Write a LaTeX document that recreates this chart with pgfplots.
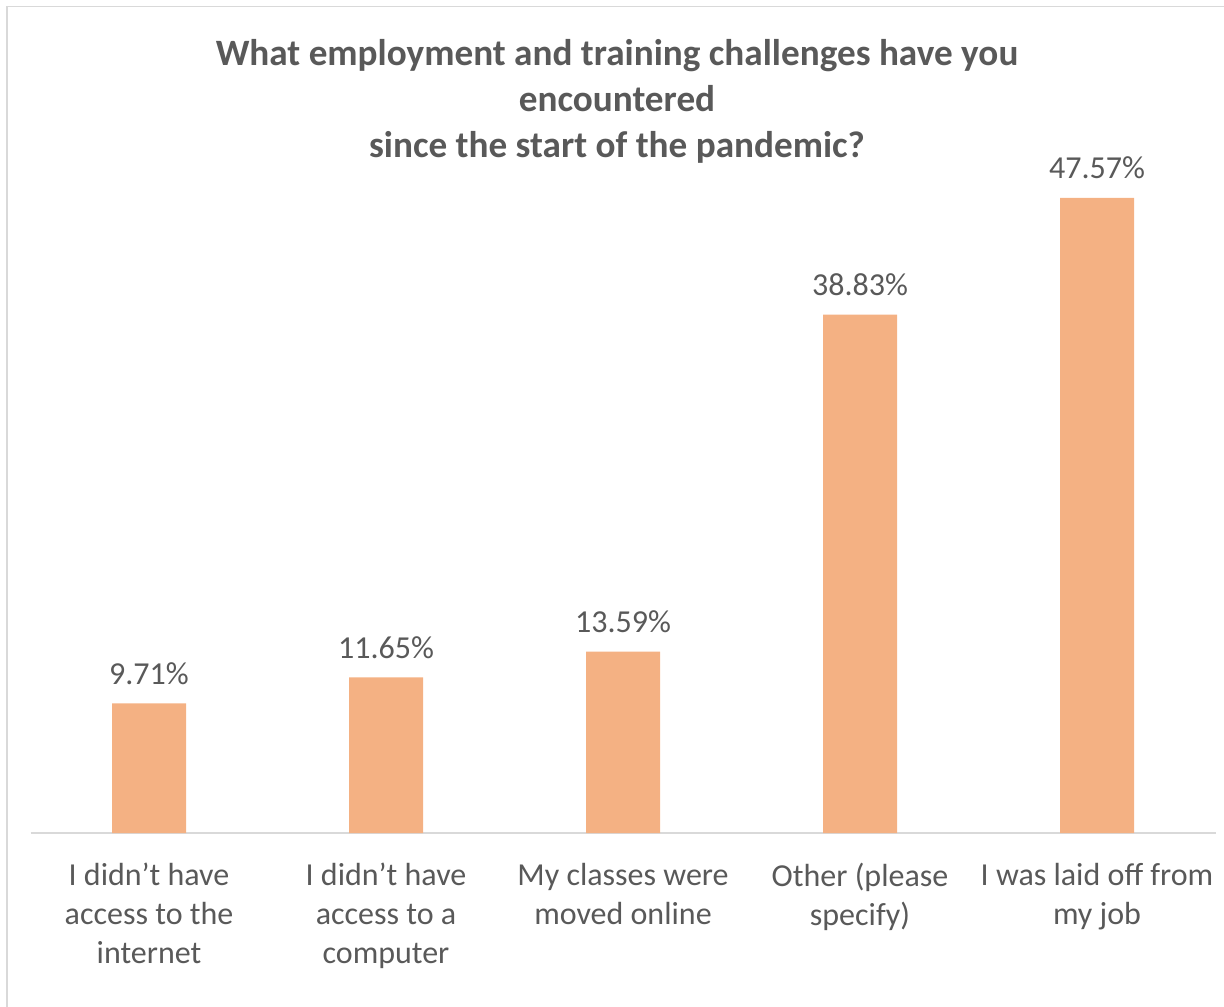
\documentclass[border=0pt]{standalone}
\usepackage{pgfplots}
\pgfplotsset{compat=1.18}
\usepackage{fontspec}
\setmainfont{Carlito}
\definecolor{barc}{HTML}{F4B183}
\definecolor{txt}{HTML}{595959}
\definecolor{gridc}{HTML}{D9D9D9}
\begin{document}
\begin{tikzpicture}[x=1pt,y=1pt]
\useasboundingbox (0,0) rectangle (612,503);
\begin{scope}
\clip (0,0) rectangle (612,503);
\draw[gridc, line width=0.8pt] (3.5,-10) -- (3.5,499.75) -- (640,499.75);
\end{scope}
\node[text=txt, font=\fontsize{18.6}{23}\selectfont\bfseries, align=center, anchor=north] at (308.5,487)
{What employment and training challenges have you\\ encountered\\ since the start of the pandemic?};
\begin{axis}[
  at={(15.25pt,86.5pt)}, anchor=south west,
  scale only axis, width=592.5pt, height=333.75pt,
  xmin=-0.5, xmax=4.5, ymin=0, ymax=50,
  axis lines=none,
  ybar, bar width=37pt,
  xtick=data,
  xticklabels={},
  /pgf/number format/assume math mode=true,
  nodes near coords={\pgfmathprintnumber[fixed,fixed zerofill,precision=2,assume math mode=true]{\pgfplotspointmeta}\%},
  nodes near coords style={text=txt, font=\fontsize{16}{19}\selectfont, anchor=south, yshift=6pt},
  point meta=explicit,
  clip=false,
]
\draw[gridc, line width=1pt] (axis cs:-0.5,0) -- (axis cs:4.5,0);
\addplot[fill=barc, draw=none] coordinates {
  (0,9.71) [9.71] (1,11.65) [11.65] (2,13.59) [13.59] (3,38.83) [38.83] (4,47.57) [47.57]};
\foreach \i/\t in {0/{I didn’t have\\access to the\\internet},1/{I didn’t have\\access to a\\computer},2/{My classes were\\moved online},3/{Other (please\\specify)},4/{I was laid off from\\my job}}{
  \edef\temp{\noexpand\node[text=txt, font=\noexpand\fontsize{16}{19.5}\noexpand\selectfont, align=center, anchor=north] at (axis cs:\i,0) [yshift=-11.5pt] {\unexpanded\expandafter{\t}};}
  \temp
}
\end{axis}
\end{tikzpicture}
\end{document}
